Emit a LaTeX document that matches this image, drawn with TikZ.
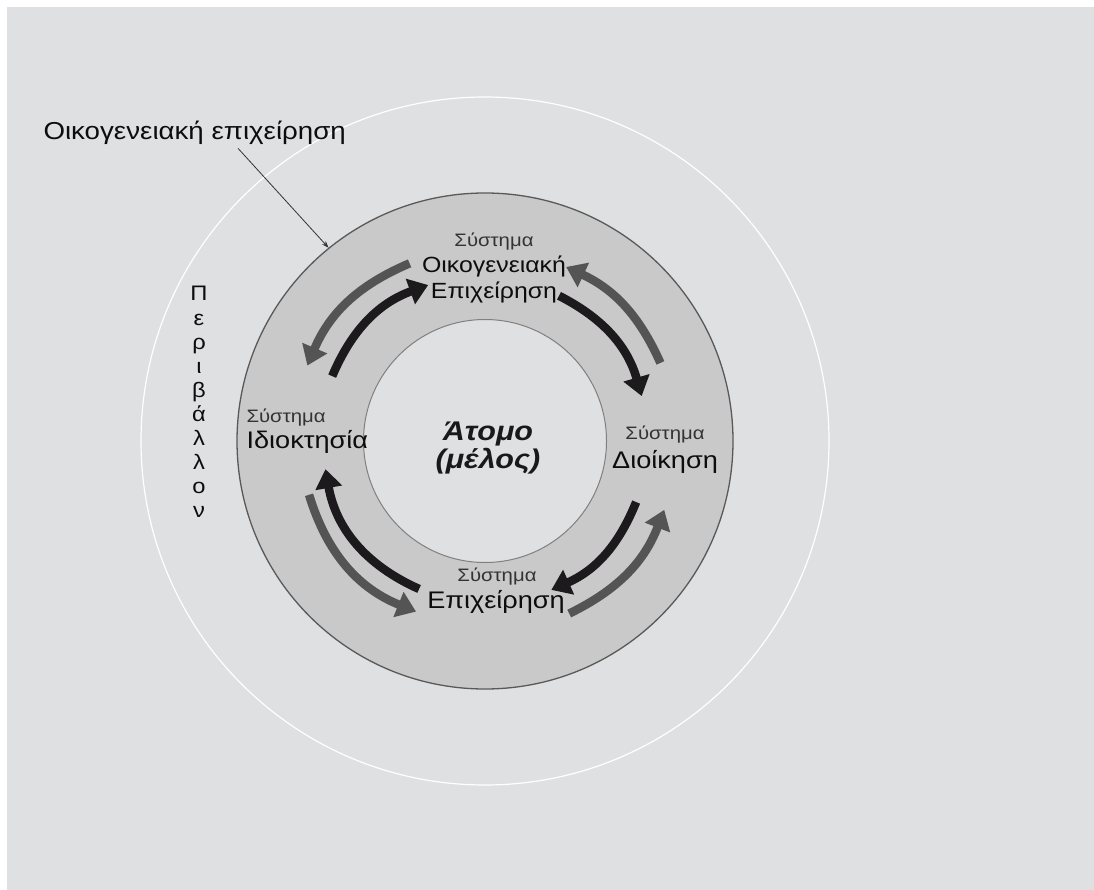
\documentclass[tikz,border=0pt]{standalone}
\usepackage{fontspec}
\setmainfont{Liberation Sans}
\newfontfamily\widesans[FakeStretch=1.13]{Liberation Sans}
\usetikzlibrary{arrows.meta,calc}

\definecolor{paper}{HTML}{DFE0E2}
\definecolor{ringfill}{HTML}{C9C9C9}
\definecolor{flowgray}{HTML}{545454}
\definecolor{flowblack}{HTML}{1C1A1C}

\begin{document}
\begin{tikzpicture}[x=1pt,y=1pt,
    sys/.style={font=\widesans\fontsize{18}{20}\selectfont,text=black!80},
    sysname/.style={font=\widesans\fontsize{24}{26}\selectfont,text=black!95,align=center},
    flow/.style={line width=8.5pt,-{Triangle[width=26pt,length=19pt]}},
    ring/.style={circle,inner sep=0pt}]
  \useasboundingbox (0,0) rectangle (1094,-890);
  \fill[white] (0,0) rectangle (1094,-890);
  \fill[paper] (7,-7) rectangle (1094,-890);

  % the three circles
  \coordinate (c) at (485,-441);
  \node[ring,draw=white,line width=1.2pt,minimum size=688pt] (env) at (c) {};
  \node[ring,draw=black!65,fill=ringfill,line width=1.3pt,minimum size=496pt] (fam) at (c) {};
  \node[ring,draw=black!50,fill=paper,line width=1pt,minimum size=243pt] (mem) at (c) {};

  % circulating arrows: start angle / tip angle / radius / colour
  \def\flows{113/157/193/flowgray, 157/110/166/flowblack,
             24/65/192/flowgray, 63/16/163/flowblack,
             -22/-66/163/flowblack, -64/-21/192/flowgray,
             -114/-170/162/flowblack, -163/-112/184/flowgray}
  \foreach \a/\b/\r/\col [count=\i from 1] in \flows {
    \coordinate (f\i a) at ($(c)+(\a:\r)$);
    \coordinate (f\i b) at ($(c)+(\b:\r)$);
    \pgfmathsetmacro\bend{(\a-\b)/2}
    \draw[flow,draw=\col] (f\i a) to[bend left=\bend] (f\i b);
  }

  % outer label with its pointer
  \node[anchor=west,font=\widesans\fontsize{24.5}{27}\selectfont,text=black!95] (firm) at (40,-133) {Οικογενειακή επιχείρηση};
  \draw[-{Stealth[length=7pt,width=5pt]},black!80,line width=0.8pt]
    ($(firm.south west)!0.64!(firm.south east)$) -- (fam.129.5);

  % Περιβάλλον, written downwards
  \foreach \l [count=\i from 0] in {Π,ε,ρ,ι,β,ά,λ,λ,ο,ν}
    \node[anchor=base,font=\widesans\fontsize{21}{24}\selectfont,text=black!95] (e\i) at (199,{-301-24*\i}) {\l};

  % the four systems
  \node[sys] (s1) at (494,-242) {Σύστημα};
  \node[sysname,font=\widesans\fontsize{22}{26}\selectfont] (n1) at (494,-279) {Οικογενειακή\\Επιχείρηση};
  \node[sys,anchor=west] (s2) at (243,-418) {Σύστημα};
  \node[sysname,anchor=west] (n2) at (243,-442) {Ιδιοκτησία};
  \node[sys] (s3) at (665,-435) {Σύστημα};
  \node[sysname] (n3) at (665,-462) {Διοίκηση};
  \node[sys] (s4) at (497,-577) {Σύστημα};
  \node[sysname] (n4) at (496,-602) {Επιχείρηση};

  % the member in the middle
  \node[font=\widesans\fontsize{27}{28}\selectfont\bfseries\itshape,align=center,text=black!90] (m) at (488,-448) {Άτομο\\(μέλος)};
\end{tikzpicture}
\end{document}
